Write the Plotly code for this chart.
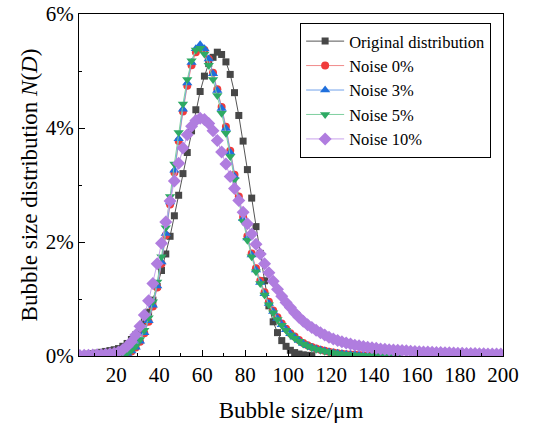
import plotly.graph_objects as go

# Bubble size (µm), bin centres
sizes = [3, 5, 7, 9, 11, 13, 15, 17, 19, 21, 23, 25, 27, 29, 31, 33, 35, 37, 39, 41,
         43, 45, 47, 49, 51, 53, 55, 57, 59, 61, 63, 65, 67, 69, 71, 73, 75, 77, 79, 81,
         83, 85, 87, 89, 91, 93, 95, 97, 99, 101, 103, 105, 107, 109, 111, 113, 115, 117, 119, 121,
         123, 125, 127, 129, 131, 133, 135, 137, 139, 141, 143, 145, 147, 149, 151, 153, 155, 157, 159, 161,
         163, 165, 167, 169, 171, 173, 175, 177, 179, 181, 183, 185, 187, 189, 191, 193, 195, 197, 199]

N = None
# values in %
original = [0.02, 0.025, 0.032, 0.04, 0.05, 0.065, 0.08, 0.095, 0.11, 0.13, 0.17, 0.22, 0.29, 0.37, 0.47, 0.6, 0.77, 0.98, 1.22, 1.5,
            1.79, 2.1, 2.46, 2.82, 3.2, 3.57, 3.95, 4.32, 4.64, 4.91, 5.13, 5.24, 5.33, 5.29, 5.16, 4.94, 4.62, 4.22, 3.77, 3.27,
            2.77, 2.27, 1.8, 1.32, 0.88, 0.6, 0.41, 0.27, 0.17, 0.1, 0.06, 0.035, 0.02, 0.012, 0.006, N, N, N, N, N,
            N, N, N, N, N, N, N, N, N, N, N, N, N, N, N, N, N, N, N, N,
            N, N, N, N, N, N, N, N, N, N, N, N, N, N, N, N, N, N, N]

noise0 = [N, N, N, N, N, N, N, N, N, 0.006, 0.017, 0.04, 0.08, 0.15, 0.25, 0.4, 0.6, 0.87, 1.2, 1.62,
          2.12, 2.66, 3.22, 3.77, 4.29, 4.74, 5.1, 5.33, 5.41, 5.37, 5.21, 4.97, 4.68, 4.37, 4.02, 3.6, 3.18, 2.8, 2.44, 2.1,
          1.8, 1.54, 1.32, 1.12, 0.95, 0.8, 0.68, 0.57, 0.48, 0.4, 0.34, 0.28, 0.23, 0.19, 0.16, 0.13, 0.11, 0.09, 0.075, 0.06,
          0.05, 0.04, 0.032, 0.026, 0.021, 0.017, 0.013, 0.01, 0.008, 0.006, 0.005, 0.004, 0.003, 0.002, 0.001, N, N, N, N, N,
          N, N, N, N, N, N, N, N, N, N, N, N, N, N, N, N, N, N, N]

noise3 = [N, N, N, N, N, N, N, N, N, 0.007, 0.019, 0.043, 0.086, 0.155, 0.26, 0.41, 0.62, 0.89, 1.23, 1.65,
          2.15, 2.7, 3.26, 3.81, 4.33, 4.79, 5.15, 5.39, 5.46, 5.39, 5.21, 4.95, 4.66, 4.34, 3.99, 3.57, 3.15, 2.77, 2.41, 2.07,
          1.77, 1.51, 1.29, 1.09, 0.92, 0.78, 0.66, 0.55, 0.46, 0.39, 0.33, 0.27, 0.22, 0.18, 0.15, 0.125, 0.105, 0.087, 0.072, 0.058,
          0.048, 0.039, 0.031, 0.025, 0.02, 0.016, 0.012, 0.01, 0.008, 0.006, 0.004, 0.003, 0.002, 0.002, 0.001, N, N, N, N, N,
          N, N, N, N, N, N, N, N, N, N, N, N, N, N, N, N, N, N, N]

noise5 = [N, N, N, N, N, N, N, N, N, 0.009, 0.022, 0.05, 0.1, 0.175, 0.29, 0.45, 0.67, 0.95, 1.3, 1.74,
          2.25, 2.8, 3.37, 3.92, 4.42, 4.85, 5.18, 5.37, 5.4, 5.3, 5.1, 4.85, 4.57, 4.26, 3.91, 3.5, 3.09, 2.71, 2.36, 2.03,
          1.74, 1.48, 1.27, 1.07, 0.9, 0.76, 0.64, 0.54, 0.45, 0.37, 0.31, 0.26, 0.21, 0.175, 0.145, 0.12, 0.1, 0.083, 0.069, 0.056,
          0.046, 0.037, 0.03, 0.024, 0.019, 0.015, 0.012, 0.009, 0.007, 0.005, 0.004, 0.003, 0.002, 0.001, 0.001, N, N, N, N, N,
          N, N, N, N, N, N, N, N, N, N, N, N, N, N, N, N, N, N, N]

noise10 = [0.01, 0.012, 0.014, 0.017, 0.02, 0.024, 0.03, 0.038, 0.05, 0.07, 0.11, 0.17, 0.25, 0.37, 0.52, 0.72, 0.97, 1.27, 1.62, 1.98,
           2.35, 2.72, 3.07, 3.38, 3.65, 3.88, 4.03, 4.13, 4.17, 4.15, 4.08, 3.95, 3.78, 3.58, 3.37, 3.15, 2.94, 2.73, 2.52, 2.32,
           2.14, 1.96, 1.79, 1.62, 1.46, 1.31, 1.17, 1.05, 0.94, 0.85, 0.76, 0.68, 0.61, 0.55, 0.5, 0.45, 0.41, 0.37, 0.33, 0.3,
           0.27, 0.25, 0.23, 0.21, 0.19, 0.18, 0.165, 0.155, 0.145, 0.135, 0.125, 0.12, 0.11, 0.105, 0.1, 0.095, 0.09, 0.085, 0.08, 0.075,
           0.072, 0.068, 0.065, 0.062, 0.06, 0.057, 0.055, 0.053, 0.05, 0.048, 0.046, 0.044, 0.042, 0.04, 0.039, 0.037, 0.036, 0.035, 0.034]

series = [
    ("Original distribution", original, "square", 7, "#474747", "#555555"),
    ("Noise 0%", noise0, "circle", 8, "#f03c3c", "#f08a8a"),
    ("Noise 3%", noise3, "triangle-up", 9, "#1f6fdc", "#72a3ea"),
    ("Noise 5%", noise5, "triangle-down", 9, "#2eaa64", "#7fcf9f"),
    ("Noise 10%", noise10, "diamond", 10, "#b07ddf", "#c9a3ec"),
]

FONT = "Liberation Serif, Times New Roman, serif"

fig = go.Figure()
for name, vals, sym, sz, mc, lc in series:
    fig.add_trace(go.Scatter(
        x=sizes, y=vals, name=name, mode="lines+markers",
        line=dict(color=lc, width=1),
        marker=dict(symbol=sym, size=sz, color=mc, line=dict(width=0)),
    ))

fig.update_layout(
    width=535, height=432,
    margin=dict(l=79, r=32, t=14, b=76, autoexpand=False),
    paper_bgcolor="white", plot_bgcolor="white",
    font=dict(family=FONT, color="black", size=20),
    showlegend=True,
    legend=dict(
        x=0.972, y=0.974, xanchor="right", yanchor="top",
        bordercolor="black", borderwidth=1, bgcolor="white",
        font=dict(family=FONT, size=16.5, color="black"),
        tracegroupgap=0, itemwidth=38,
    ),
    xaxis=dict(
        range=[2.6, 200], tick0=0, dtick=20, automargin=False,
        ticks="inside", ticklen=6, tickwidth=1, tickcolor="black",
        minor=dict(dtick=10, ticks="inside", ticklen=3, tickcolor="black"),
        showline=True, linecolor="black", linewidth=1.3, mirror=True,
        showgrid=False, zeroline=False,
        tickfont=dict(family=FONT, size=21),
        title=dict(text="Bubble size/μm", font=dict(family=FONT, size=23), standoff=15),
    ),
    yaxis=dict(
        range=[0, 6], tickvals=[0, 2, 4, 6], ticktext=["0%", "2%", "4%", "6%"], automargin=False,
        ticks="inside", ticklen=6, tickwidth=1, tickcolor="black",
        minor=dict(dtick=1, ticks="inside", ticklen=3, tickcolor="black"),
        showline=True, linecolor="black", linewidth=1.3, mirror=True,
        showgrid=False, zeroline=False,
        tickfont=dict(family=FONT, size=21),
        title=dict(text="Bubble size distribution <i>N</i>(<i>D</i>)", font=dict(family=FONT, size=23), standoff=1),
    ),
)

fig.write_html("out.html", config={"displayModeBar": False},
               post_script="document.body.style.margin='0';")
